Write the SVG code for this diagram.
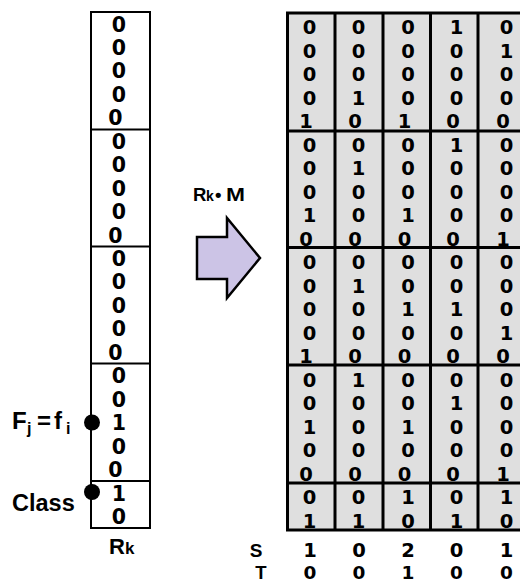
<svg xmlns="http://www.w3.org/2000/svg" width="520" height="583" viewBox="0 0 520 583">
<style>
.lbl{font-family:"Liberation Sans",Arial,sans-serif;font-weight:bold;fill:#000}
.dl{font-family:"DejaVu Sans",sans-serif;font-weight:bold;font-size:20.5px;fill:#000;text-anchor:middle}
.dm{font-family:"DejaVu Sans",sans-serif;font-weight:bold;font-size:19.5px;fill:#000;text-anchor:middle}
.box{fill:#fff;stroke:#000;stroke-width:2}
.mat{fill:#dfdfdf;stroke:#000;stroke-width:3}
.ln2{stroke:#000;stroke-width:2}
.ln3{stroke:#000;stroke-width:3}
</style>
<rect width="520" height="583" fill="#fff"/>

<g id="vector-rk">
<rect class="box" x="91" y="12" width="59" height="516"/>
<line class="ln2" x1="91" y1="129.5" x2="150" y2="129.5"/>
<line class="ln2" x1="91" y1="246.5" x2="150" y2="246.5"/>
<line class="ln2" x1="91" y1="363.5" x2="150" y2="363.5"/>
<line class="ln2" x1="91" y1="481" x2="150" y2="481"/>
<text class="dl">
<tspan x="119" y="31.5">0</tspan><tspan x="119" y="55">0</tspan><tspan x="119" y="78.4">0</tspan><tspan x="119" y="101.8">0</tspan><tspan x="119" y="125.3">0</tspan>
<tspan x="119" y="148.8">0</tspan><tspan x="119" y="172.2">0</tspan><tspan x="119" y="195.6">0</tspan><tspan x="119" y="219.1">0</tspan><tspan x="119" y="242.5">0</tspan>
<tspan x="119" y="266">0</tspan><tspan x="119" y="289.4">0</tspan><tspan x="119" y="312.9">0</tspan><tspan x="119" y="336.3">0</tspan><tspan x="119" y="359.8">0</tspan>
<tspan x="119" y="383.2">0</tspan><tspan x="119" y="406.7">0</tspan><tspan x="119" y="430.1">1</tspan><tspan x="119" y="453.6">0</tspan><tspan x="119" y="477">0</tspan>
<tspan x="119" y="500.5">1</tspan><tspan x="119" y="523.9">0</tspan>
</text>
<text class="lbl" x="109" y="554" font-size="22" fill="#111">R<tspan font-size="17">k</tspan></text>
</g>

<g id="label-fj">
<text class="lbl" font-size="24"><tspan x="12" y="429">F</tspan><tspan x="27" y="434" font-size="16">j</tspan><tspan x="37" y="429">=</tspan><tspan x="54" y="429">f</tspan><tspan x="66" y="434" font-size="16">i</tspan></text>
</g>
<g id="label-class">
<text class="lbl" x="12" y="511" font-size="23.5">Class</text>
</g>

<g id="connectors">
<circle cx="92" cy="422.5" r="8" fill="#000"/>
<circle cx="92" cy="492" r="8" fill="#000"/>
</g>

<g id="arrow">
<text class="lbl" y="201" font-size="18.5" fill="#111"><tspan x="193">R</tspan><tspan x="206" font-size="14">k</tspan><tspan x="215">•</tspan><tspan x="226" textLength="19" lengthAdjust="spacingAndGlyphs">M</tspan></text>
<polygon points="197,237 227,237 227,218 260,258 227,298 227,279 197,279" fill="#ccc4e6" stroke="#000" stroke-width="2.5" stroke-linejoin="miter"/>
</g>

<g id="matrix">
<rect class="mat" x="287.5" y="13" width="240" height="517"/>
<line class="ln3" x1="335" y1="13" x2="335" y2="530"/>
<line class="ln3" x1="383" y1="13" x2="383" y2="530"/>
<line class="ln3" x1="430.5" y1="13" x2="430.5" y2="530"/>
<line class="ln3" x1="478" y1="13" x2="478" y2="530"/>
<line class="ln3" x1="287.5" y1="131" x2="527.5" y2="131"/>
<line class="ln3" x1="287.5" y1="247.5" x2="527.5" y2="247.5"/>
<line class="ln3" x1="287.5" y1="365" x2="527.5" y2="365"/>
<line class="ln3" x1="287.5" y1="483" x2="527.5" y2="483"/>
<text class="dm">
<tspan x="309.5" y="34">0</tspan><tspan x="309.5" y="57.5">0</tspan><tspan x="309.5" y="81">0</tspan><tspan x="309.5" y="104.5">0</tspan><tspan x="309.5" y="128">1</tspan>
<tspan x="309.5" y="151.5">0</tspan><tspan x="309.5" y="175">0</tspan><tspan x="309.5" y="198.5">0</tspan><tspan x="309.5" y="222">1</tspan><tspan x="309.5" y="245.5">0</tspan>
<tspan x="309.5" y="269">0</tspan><tspan x="309.5" y="292.5">0</tspan><tspan x="309.5" y="316">0</tspan><tspan x="309.5" y="339.5">0</tspan><tspan x="309.5" y="363">1</tspan>
<tspan x="309.5" y="386.5">0</tspan><tspan x="309.5" y="410">0</tspan><tspan x="309.5" y="433.5">1</tspan><tspan x="309.5" y="457">0</tspan><tspan x="309.5" y="480.5">0</tspan>
<tspan x="309.5" y="504">0</tspan><tspan x="309.5" y="527.5">1</tspan>
</text>
<text class="dm">
<tspan x="358.5" y="34">0</tspan><tspan x="358.5" y="57.5">0</tspan><tspan x="358.5" y="81">0</tspan><tspan x="358.5" y="104.5">1</tspan><tspan x="358.5" y="128">0</tspan>
<tspan x="358.5" y="151.5">0</tspan><tspan x="358.5" y="175">1</tspan><tspan x="358.5" y="198.5">0</tspan><tspan x="358.5" y="222">0</tspan><tspan x="358.5" y="245.5">0</tspan>
<tspan x="358.5" y="269">0</tspan><tspan x="358.5" y="292.5">1</tspan><tspan x="358.5" y="316">0</tspan><tspan x="358.5" y="339.5">0</tspan><tspan x="358.5" y="363">0</tspan>
<tspan x="358.5" y="386.5">1</tspan><tspan x="358.5" y="410">0</tspan><tspan x="358.5" y="433.5">0</tspan><tspan x="358.5" y="457">0</tspan><tspan x="358.5" y="480.5">0</tspan>
<tspan x="358.5" y="504">0</tspan><tspan x="358.5" y="527.5">1</tspan>
</text>
<text class="dm">
<tspan x="408" y="34">0</tspan><tspan x="408" y="57.5">0</tspan><tspan x="408" y="81">0</tspan><tspan x="408" y="104.5">0</tspan><tspan x="408" y="128">1</tspan>
<tspan x="408" y="151.5">0</tspan><tspan x="408" y="175">0</tspan><tspan x="408" y="198.5">0</tspan><tspan x="408" y="222">1</tspan><tspan x="408" y="245.5">0</tspan>
<tspan x="408" y="269">0</tspan><tspan x="408" y="292.5">0</tspan><tspan x="408" y="316">1</tspan><tspan x="408" y="339.5">0</tspan><tspan x="408" y="363">0</tspan>
<tspan x="408" y="386.5">0</tspan><tspan x="408" y="410">0</tspan><tspan x="408" y="433.5">1</tspan><tspan x="408" y="457">0</tspan><tspan x="408" y="480.5">0</tspan>
<tspan x="408" y="504">1</tspan><tspan x="408" y="527.5">0</tspan>
</text>
<text class="dm">
<tspan x="456.5" y="34">1</tspan><tspan x="456.5" y="57.5">0</tspan><tspan x="456.5" y="81">0</tspan><tspan x="456.5" y="104.5">0</tspan><tspan x="456.5" y="128">0</tspan>
<tspan x="456.5" y="151.5">1</tspan><tspan x="456.5" y="175">0</tspan><tspan x="456.5" y="198.5">0</tspan><tspan x="456.5" y="222">0</tspan><tspan x="456.5" y="245.5">0</tspan>
<tspan x="456.5" y="269">0</tspan><tspan x="456.5" y="292.5">0</tspan><tspan x="456.5" y="316">1</tspan><tspan x="456.5" y="339.5">0</tspan><tspan x="456.5" y="363">0</tspan>
<tspan x="456.5" y="386.5">0</tspan><tspan x="456.5" y="410">1</tspan><tspan x="456.5" y="433.5">0</tspan><tspan x="456.5" y="457">0</tspan><tspan x="456.5" y="480.5">0</tspan>
<tspan x="456.5" y="504">0</tspan><tspan x="456.5" y="527.5">1</tspan>
</text>
<text class="dm">
<tspan x="506.5" y="34">0</tspan><tspan x="506.5" y="57.5">1</tspan><tspan x="506.5" y="81">0</tspan><tspan x="506.5" y="104.5">0</tspan><tspan x="506.5" y="128">0</tspan>
<tspan x="506.5" y="151.5">0</tspan><tspan x="506.5" y="175">0</tspan><tspan x="506.5" y="198.5">0</tspan><tspan x="506.5" y="222">0</tspan><tspan x="506.5" y="245.5">1</tspan>
<tspan x="506.5" y="269">0</tspan><tspan x="506.5" y="292.5">0</tspan><tspan x="506.5" y="316">0</tspan><tspan x="506.5" y="339.5">1</tspan><tspan x="506.5" y="363">0</tspan>
<tspan x="506.5" y="386.5">0</tspan><tspan x="506.5" y="410">0</tspan><tspan x="506.5" y="433.5">0</tspan><tspan x="506.5" y="457">0</tspan><tspan x="506.5" y="480.5">1</tspan>
<tspan x="506.5" y="504">1</tspan><tspan x="506.5" y="527.5">0</tspan>
</text>
</g>

<g id="totals">
<text class="lbl" x="256" y="557" font-size="19" text-anchor="middle">S</text>
<text class="lbl" x="261" y="579" font-size="18.5" text-anchor="middle">T</text>
<text class="dm"><tspan x="310" y="557">1</tspan><tspan x="359" y="557">0</tspan><tspan x="408" y="557">2</tspan><tspan x="456.5" y="557">0</tspan><tspan x="506.5" y="557">1</tspan></text>
<text class="dm" style="font-size:18.5px"><tspan x="310" y="579">0</tspan><tspan x="359" y="579">0</tspan><tspan x="408" y="579">1</tspan><tspan x="456.5" y="579">0</tspan><tspan x="506.5" y="579">0</tspan></text>
</g>
</svg>
